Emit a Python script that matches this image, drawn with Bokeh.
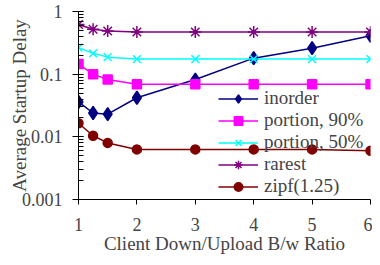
from bokeh.plotting import figure
from bokeh.models import Range1d, Legend, LegendItem, CustomJSTickFormatter, FixedTicker
from bokeh.embed import file_html
from bokeh.resources import INLINE

x_vals = [1, 1.25, 1.5, 2, 3, 4, 5, 6]
inorder = [0.036, 0.024, 0.023, 0.042, 0.082, 0.18, 0.26, 0.41]
portion90 = [0.145, 0.10, 0.082, 0.069, 0.069, 0.069, 0.069, 0.069]
portion50 = [0.265, 0.215, 0.187, 0.174, 0.174, 0.174, 0.174, 0.174]
rarest = [0.62, 0.52, 0.49, 0.47, 0.47, 0.47, 0.47, 0.47]
zipf = [0.0165, 0.0104, 0.0080, 0.0063, 0.0063, 0.0063, 0.0063, 0.0060]
x_ticks = [1, 2, 3, 4, 5, 6]

FONT = "Liberation Serif"

p = figure(width=372, height=257, y_axis_type="log", output_backend="svg",
           toolbar_location=None, x_range=Range1d(1, 6), y_range=Range1d(0.001, 1),
           min_border_left=78, min_border_right=2, min_border_top=11, min_border_bottom=58)
p.outline_line_color = None
p.xgrid.visible = False
p.ygrid.visible = False
p.background_fill_color = "white"
p.border_fill_color = "white"

series = [
    ("inorder", inorder, "#000080", "diamond", 13),
    ("portion, 90%", portion90, "#FF00FF", "square", 9),
    ("portion, 50%", portion50, "#00FFFF", "x", 11),
    ("rarest", rarest, "#800080", "asterisk", 12),
    ("zipf(1.25)", zipf, "#800000", "circle", 9),
]
items = []
for name, ys, col, mk, sz in series:
    r1 = p.line(x_vals, ys, line_color=col, line_width=1.5)
    r2 = p.scatter(x_vals, ys, marker=mk, size=sz, fill_color=col, line_color=col, line_width=1.5)
    items.append(LegendItem(label=name, renderers=[r1, r2]))

legend = Legend(items=items, location=(140, 2), background_fill_alpha=0,
                border_line_color=None, padding=0, margin=0, spacing=0,
                glyph_width=40, glyph_height=21, label_standoff=6,
                label_text_font=FONT, label_text_font_size="19px", label_height=21,
                label_text_line_height=0.9)
p.add_layout(legend, "center")

xa = p.xaxis[0]
xa.ticker = FixedTicker(ticks=x_ticks)
xa.axis_label = "Client Down/Upload B/w Ratio"
xa.axis_label_text_font = FONT
xa.axis_label_text_font_size = "19px"
xa.axis_label_text_font_style = "normal"
xa.axis_label_text_line_height = 1.0
xa.axis_label_standoff = -1
xa.major_label_text_font = FONT
xa.major_label_text_font_size = "18px"
xa.major_label_text_line_height = 1.0
xa.major_label_standoff = 13
xa.major_tick_in = 0
xa.major_tick_out = 5
xa.minor_tick_line_color = None
xa.axis_line_color = "black"

ya = p.yaxis[0]
ya.formatter = CustomJSTickFormatter(code="return Number(tick.toPrecision(3)).toString();")
ya.axis_label = "Average Startup Delay"
ya.axis_label_text_font = FONT
ya.axis_label_text_font_size = "19px"
ya.axis_label_text_font_style = "normal"
ya.axis_label_text_line_height = 1.0
ya.axis_label_standoff = -11
ya.major_label_text_font = FONT
ya.major_label_text_font_size = "18px"
ya.major_label_standoff = 10
ya.major_tick_in = 0
ya.major_tick_out = 6
ya.minor_tick_in = 5
ya.minor_tick_out = 0
ya.axis_line_color = "black"

open("out.html", "w").write(file_html(p, INLINE))
